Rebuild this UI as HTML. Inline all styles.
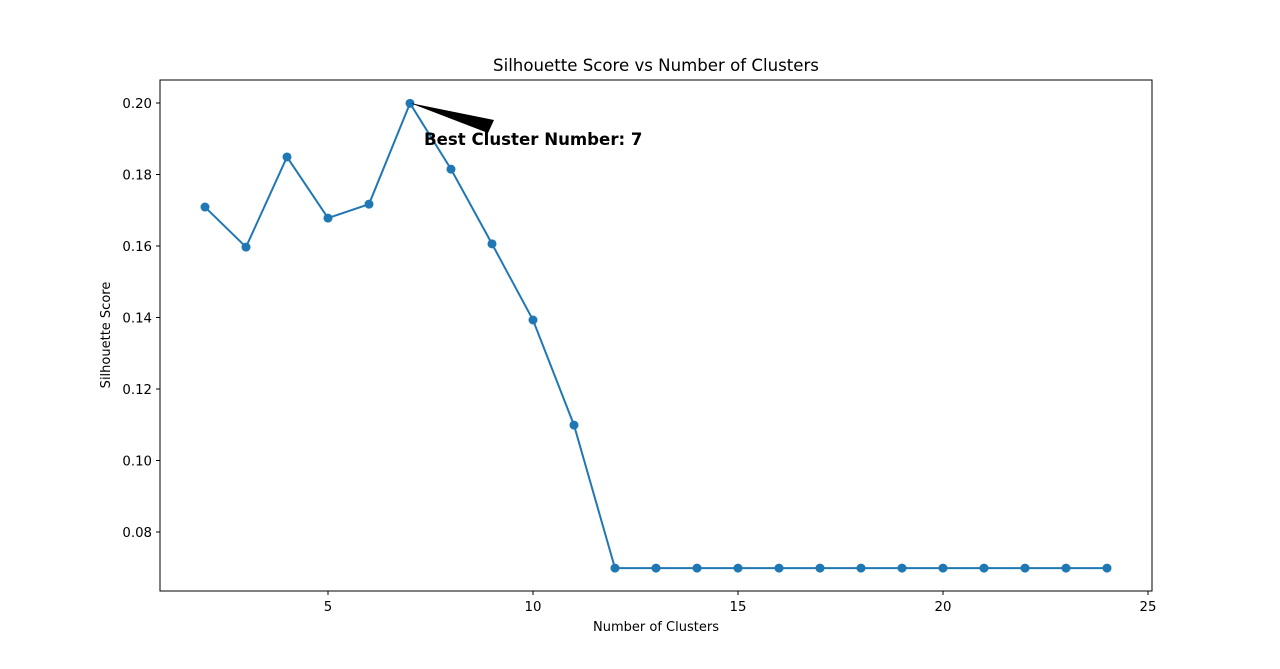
<!DOCTYPE html>
<html><head><meta charset="utf-8"><style>
body{margin:0;background:#fff;font-family:"Liberation Sans","DejaVu Sans",sans-serif}
</style></head><body>
<svg width="1280" height="664" xmlns="http://www.w3.org/2000/svg" font-family="DejaVu Sans, Liberation Sans, sans-serif">
<rect width="1280" height="664" fill="#fff"/>
<text x="656" y="71" text-anchor="middle" font-size="16.6">Silhouette Score vs Number of Clusters</text>
<g id="xt"></g>
<g id="yt"></g>
<g id="plot"></g>
<rect x="160" y="80" width="992" height="511" fill="none" stroke="#000" stroke-width="1"/>
<text x="656" y="631" text-anchor="middle" font-size="13">Number of Clusters</text>
<text transform="translate(110,335) rotate(-90)" text-anchor="middle" font-size="13">Silhouette Score</text>
<polygon points="410,103 494,120 488,133" fill="#000"/>
<text x="424" y="145" font-size="16.6" font-weight="bold">Best Cluster Number: 7</text>
</svg>
<script>
const clusters=[2,3,4,5,6,7,8,9,10,11,12,13,14,15,16,17,18,19,20,21,22,23,24];
const scores=[0.1709,0.1597,0.1849,0.1678,0.1717,0.1999,0.1815,0.1606,0.1393,0.1099,0.0699,0.0699,0.0699,0.0699,0.0699,0.0699,0.0699,0.0699,0.0699,0.0699,0.0699,0.0699,0.0699];
const xTicks=[5,10,15,20,25];
const yTicks=[0.08,0.10,0.12,0.14,0.16,0.18,0.20];
const NS="http://www.w3.org/2000/svg";
function X(v){return 328+(v-5)*41;}
function Y(v){return 103+(0.20-v)*3575;}
function mk(t,a,p){const e=document.createElementNS(NS,t);for(const k in a)e.setAttribute(k,a[k]);p.appendChild(e);return e;}
const xt=document.getElementById('xt'),yt=document.getElementById('yt'),pl=document.getElementById('plot');
xTicks.forEach(v=>{
 const l=mk('line',{x1:X(v),x2:X(v),y1:591,y2:595,stroke:'#000'},xt);
 
 
 const t=mk('text',{x:X(v),y:611,'text-anchor':'middle','font-size':13.3},xt);t.textContent=v;
 
 
});
yTicks.forEach(v=>{
 const l=mk('line',{x1:156,x2:160,y1:Y(v),y2:Y(v),stroke:'#000'},yt);
 
 
 const t=mk('text',{x:152,y:Y(v)+5,'text-anchor':'end','font-size':13.3},yt);t.textContent=v.toFixed(2);
 
 
});
const line=mk('polyline',{points:clusters.map((c,i)=>X(c)+','+Y(scores[i])).join(' '),fill:'none',stroke:'#1f77b4','stroke-width':2},pl);


clusters.forEach((c,i)=>{
 const p=mk('circle',{cx:X(c),cy:Y(scores[i]),r:4.5,fill:'#1f77b4'},pl);
 
 
});
</script>
</body></html>
